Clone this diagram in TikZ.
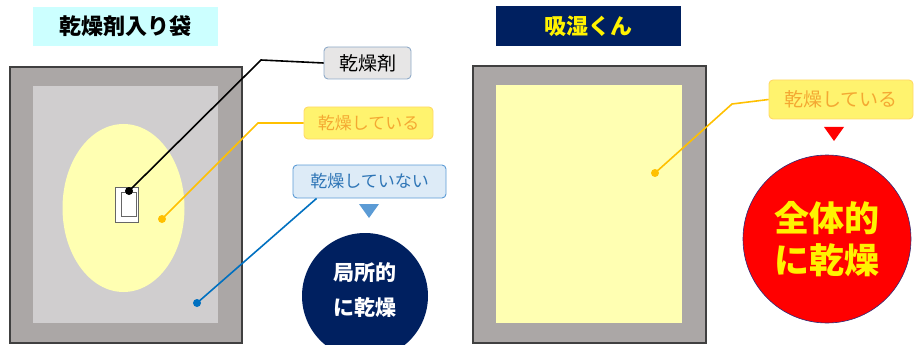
\documentclass[tikz,border=0pt]{standalone}
\usepackage{fontspec}
\setmainfont{Noto Sans CJK JP}
\usetikzlibrary{positioning,shapes.geometric}

\definecolor{bagGray}{RGB}{171,167,166}
\definecolor{bagEdge}{RGB}{64,64,64}
\definecolor{innerGray}{RGB}{208,206,207}
\definecolor{dryYellow}{RGB}{255,255,178}
\definecolor{titleCyan}{RGB}{204,255,255}
\definecolor{navy}{RGB}{0,32,96}
\definecolor{tagGray}{RGB}{231,230,230}
\definecolor{tagGrayEdge}{RGB}{143,170,200}
\definecolor{tagYellow}{RGB}{255,243,110}
\definecolor{tagYellowEdge}{RGB}{255,217,102}
\definecolor{tagOrange}{RGB}{244,168,50}
\definecolor{tagBlue}{RGB}{221,235,247}
\definecolor{tagBlueEdge}{RGB}{91,155,213}
\definecolor{tagBlueText}{RGB}{46,117,182}
\definecolor{leadOrange}{RGB}{255,192,0}
\definecolor{leadBlue}{RGB}{0,112,192}

\tikzset{
  title/.style={inner sep=0pt, font=\bfseries\fontsize{22}{22}\selectfont},
  tag/.style={draw, rounded corners=4pt, line width=0.9pt, inner sep=0pt,
    minimum height=32pt, font=\fontsize{17}{17}\selectfont},
  leader/.style={line width=1.6pt},
  dot/.style={circle, fill, inner sep=0pt, minimum size=8pt},
  bag/.style={fill=bagGray, draw=bagEdge, line width=1.5pt},
}

\begin{document}
\begin{tikzpicture}[x=1pt, y=-1pt]
    \clip (0,0) rectangle (914,345);

    % titles
    \node[title, fill=titleCyan, minimum width=185pt, minimum height=39pt] (titleA) at (125.5,26.5) {乾燥剤入り袋};
    \node[title, fill=navy, text=yellow, minimum width=185pt, minimum height=40pt] (titleB) at (588.5,26) {吸湿くん};

    % bag with desiccant
    \draw[bag] (10,67) rectangle (242,343);
    \fill[innerGray] (33,86) rectangle (218,323);
    \fill[dryYellow] (123.5,208) ellipse [x radius=61, y radius=84];
    \draw[fill=white, draw=gray!80!black, line width=1pt] (115,187) rectangle (138,222);
    \draw[draw=gray!80!black, line width=1pt] (121,192) rectangle (136,216);

    % bag with 吸湿くん
    \draw[bag] (473,66) rectangle (706,343);
    \fill[dryYellow] (496,85) rectangle (682,323);

    % labels
    \node[tag, fill=tagGray, draw=tagGrayEdge, minimum width=87pt, font=\fontsize{19}{19}\selectfont] (tagAgent) at (367.5,63) {乾燥剤};
    \node[tag, fill=tagYellow, draw=tagYellowEdge, text=tagOrange, minimum width=129pt] (tagDry) at (368.5,123) {乾燥している};
    \node[tag, fill=tagBlue, draw=tagBlueEdge, text=tagBlueText, minimum width=153pt, minimum height=33pt] (tagWet) at (369.5,181.5) {乾燥していない};
    \node[tag, fill=tagYellow, draw=tagYellowEdge, text=tagOrange, minimum width=144pt, minimum height=39pt, font=\fontsize{19}{19}\selectfont] (tagAll) at (841,99.5) {乾燥している};

    % dots
    \node[dot, black] (dotAgent) at (129,191) {};
    \node[dot, leadOrange] (dotDry) at (162,219) {};
    \node[dot, leadBlue] (dotWet) at (197,303) {};
    \node[dot, leadOrange] (dotAll) at (655,173) {};

    \coordinate (bendAgent) at (261,60);
    \coordinate (bendDry) at (258,123);
    \coordinate (bendAll) at (732,104);

    % leader lines
    \draw[leader, black] (dotAgent.center) -- (bendAgent) -- (tagAgent.west);
    \draw[leader, leadOrange] (dotDry.center) -- (bendDry) -- (tagDry.west);
    \draw[leader, leadBlue] (dotWet.center) -- ([xshift=24pt]tagWet.south west);
    \draw[leader, leadOrange] (dotAll.center) -- (bendAll) -- (tagAll.west);

    % arrows down
    \fill[tagBlueEdge] (359,204) -- (379,204) -- (369,218) -- cycle;
    \fill[red] (824,127) -- (844,127) -- (834,141) -- cycle;

    % results
    \node[circle, fill=navy, minimum size=126pt, inner sep=0pt] (spot) at (365,296) {};
    \node[text=white, align=center, font=\bfseries\fontsize{21}{35}\selectfont] (spotText) at (365,290) {局所的\\に乾燥};
    \node[circle, fill=red, draw=bagEdge!70!blue, line width=0.6pt, minimum size=168pt, inner sep=0pt,
      text=yellow, align=center, font=\bfseries\fontsize{35}{42}\selectfont] (whole) at (827,239) {全体的\\に乾燥};
\end{tikzpicture}
\end{document}
